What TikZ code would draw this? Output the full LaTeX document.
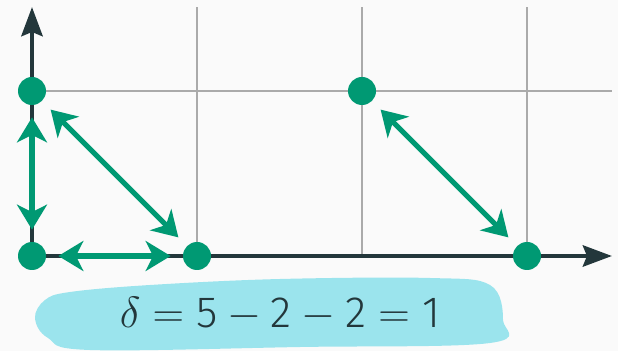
\documentclass[tikz,border=0pt]{standalone}
\usepackage{amsmath}
\usepackage{fontspec}
\setmainfont{Fira Sans}[UprightFont={* Light}]
\usepackage{tikz}
\usepackage{xcolor}
\usetikzlibrary{arrows.meta, calc}
\definecolor{cDark}{RGB}{35,55,59}
\definecolor{cGreen}{RGB}{0,153,115}
\definecolor{cCyan}{RGB}{155,228,237}
\definecolor{cGrid}{RGB}{170,170,170}
\definecolor{cBg}{RGB}{250,250,250}
\tikzset{
	axis/.style    ={line width=2.8pt, draw=cDark, -{Stealth[length=0.58cm, width=0.42cm, inset=0.08cm]}},
	gridline/.style={line width=0.8pt, draw=cGrid},
	dot/.style     ={circle, fill=cGreen, minimum size=0.56cm, inner sep=0pt},
	move/.style    ={{Stealth[length=0.5cm, width=0.6cm, inset=0.15cm]}-{Stealth[length=0.5cm, width=0.6cm, inset=0.15cm]},
		line width=2.9pt, draw=cGreen, shorten <=0.24cm, shorten >=0.24cm},
	% marker behind the formula
	marker/.style  ={fill=cCyan, draw=none},
}

\begin{document}
\begin{tikzpicture}
	\fill[cBg] (-0.64,-1.9) rectangle (11.72,5.12);
	\useasboundingbox (-0.64,-1.9) rectangle (11.72,5.12);
	% grid
	\foreach \x in {3.3,6.6,9.9}
		\draw[gridline] (\x,0) -- (\x,4.98);
	\draw[gridline] (0,3.3) -- (11.6,3.3);
	% highlighter stroke
	\fill[marker] plot[smooth cycle, tension=0.6] coordinates {
		(0.06,-1.24) (0.26,-0.88) (0.76,-0.72) (2.36,-0.58) (4.96,-0.46) (7.96,-0.44)
		(9.16,-0.58) (9.42,-1.28) (9.16,-1.74) (5.36,-1.82) (1.16,-1.88) (0.32,-1.64)};
	% axes
	\coordinate (orig) at (0,0);
	\coordinate (xend) at (11.6,0);
	\coordinate (yend) at (0,4.98);
	\draw[axis] (orig) -- (xend);
	\draw[axis] (orig) -- (yend);
	% points
	\node[dot] (o) at (0,0)     {};
	\node[dot] (a) at (0,3.3)   {};
	\node[dot] (b) at (3.3,0)   {};
	\node[dot] (c) at (6.6,3.3) {};
	\node[dot] (d) at (9.9,0)   {};
	% moves
	\draw[move] (o) -- (a);
	\draw[move] (o) -- (b);
	\draw[move] (a) -- (b);
	\draw[move] (c) -- (d);
	% formula
	\node[anchor=base, text=cDark, font=\Huge] (delta) at (4.96,-1.44)
		{$\delta = \text{5} - \text{2} - \text{2} = \text{1}$};
\end{tikzpicture}
\end{document}
